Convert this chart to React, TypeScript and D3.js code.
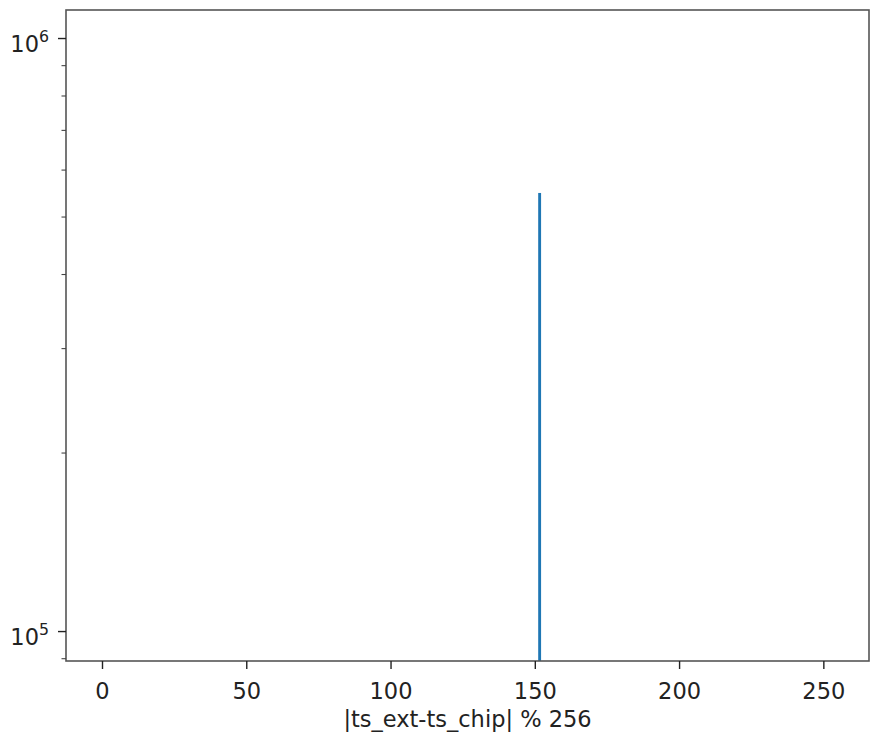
import React from "react";
import * as d3 from "d3";

// Histogram of |ts_ext - ts_chip| % 256 (bin edges and counts)
const binStarts = [151];
const binEnds = [152];
const binCounts = [549000];

// Axis ticks
const xTicks = [0, 50, 100, 150, 200, 250];
const yMajorTicks = [1e5, 1e6];
const yMajorExponents = ["5", "6"];
const yMinorTicks = [9e4, 2e5, 3e5, 4e5, 5e5, 6e5, 7e5, 8e5, 9e5];

const xLabel = "|ts_ext-ts_chip| % 256";

const W = 873;
const H = 740;
const plot = { left: 66, right: 869, top: 10, bottom: 661 };
const FONT = "'DejaVu Sans', sans-serif";
const FS = 22.5;

export default function App() {
  const x = d3.scaleLinear().domain([-12.65, 265.65]).range([plot.left, plot.right]);
  const y = d3.scaleLog().domain([89200, 1.1171e6]).range([plot.bottom, plot.top]);

  const majorLen = 8;
  const minorLen = 4.5;

  return (
    <svg
      width={W}
      height={H}
      viewBox={`0 0 ${W} ${H}`}
      style={{ position: "absolute", left: 0, top: 0, background: "#fff" }}
      fontFamily={FONT}
    >
      <defs>
        <clipPath id="plot-area">
          <rect x={plot.left} y={plot.top} width={plot.right - plot.left} height={plot.bottom - plot.top} />
        </clipPath>
      </defs>

      {/* bars */}
      <g clipPath="url(#plot-area)">
        {binCounts.map((c, i) => (
          <rect
            key={i}
            x={x(binStarts[i])}
            width={x(binEnds[i]) - x(binStarts[i])}
            y={y(c)}
            height={plot.bottom + 5 - y(c)}
            fill="#1f77b4"
          />
        ))}
      </g>

      {/* frame */}
      <rect
        x={plot.left}
        y={plot.top}
        width={plot.right - plot.left}
        height={plot.bottom - plot.top}
        fill="none"
        stroke="#555"
        strokeWidth={1.6}
      />

      {/* x axis */}
      {xTicks.map((t) => (
        <g key={t}>
          <line x1={x(t)} x2={x(t)} y1={plot.bottom} y2={plot.bottom + majorLen} stroke="#222" strokeWidth={1.4} />
          <text x={x(t)} y={699} textAnchor="middle" fontSize={FS} fill="#222">
            {t}
          </text>
        </g>
      ))}
      <text x={(plot.left + plot.right) / 2} y={727} textAnchor="middle" fontSize={FS} fill="#222">
        {xLabel}
      </text>

      {/* y axis */}
      {yMinorTicks.map((t) => (
        <line key={t} x1={plot.left - minorLen} x2={plot.left} y1={y(t)} y2={y(t)} stroke="#444" strokeWidth={1.1} />
      ))}
      {yMajorTicks.map((t, i) => (
        <g key={t}>
          <line x1={plot.left - majorLen} x2={plot.left} y1={y(t)} y2={y(t)} stroke="#222" strokeWidth={1.4} />
          <text x={49} y={y(t) + 13.5} textAnchor="end" fontSize={FS} fill="#222">
            10
            <tspan fontSize={FS * 0.7} dy={-10}>
              {yMajorExponents[i]}
            </tspan>
          </text>
        </g>
      ))}
    </svg>
  );
}
